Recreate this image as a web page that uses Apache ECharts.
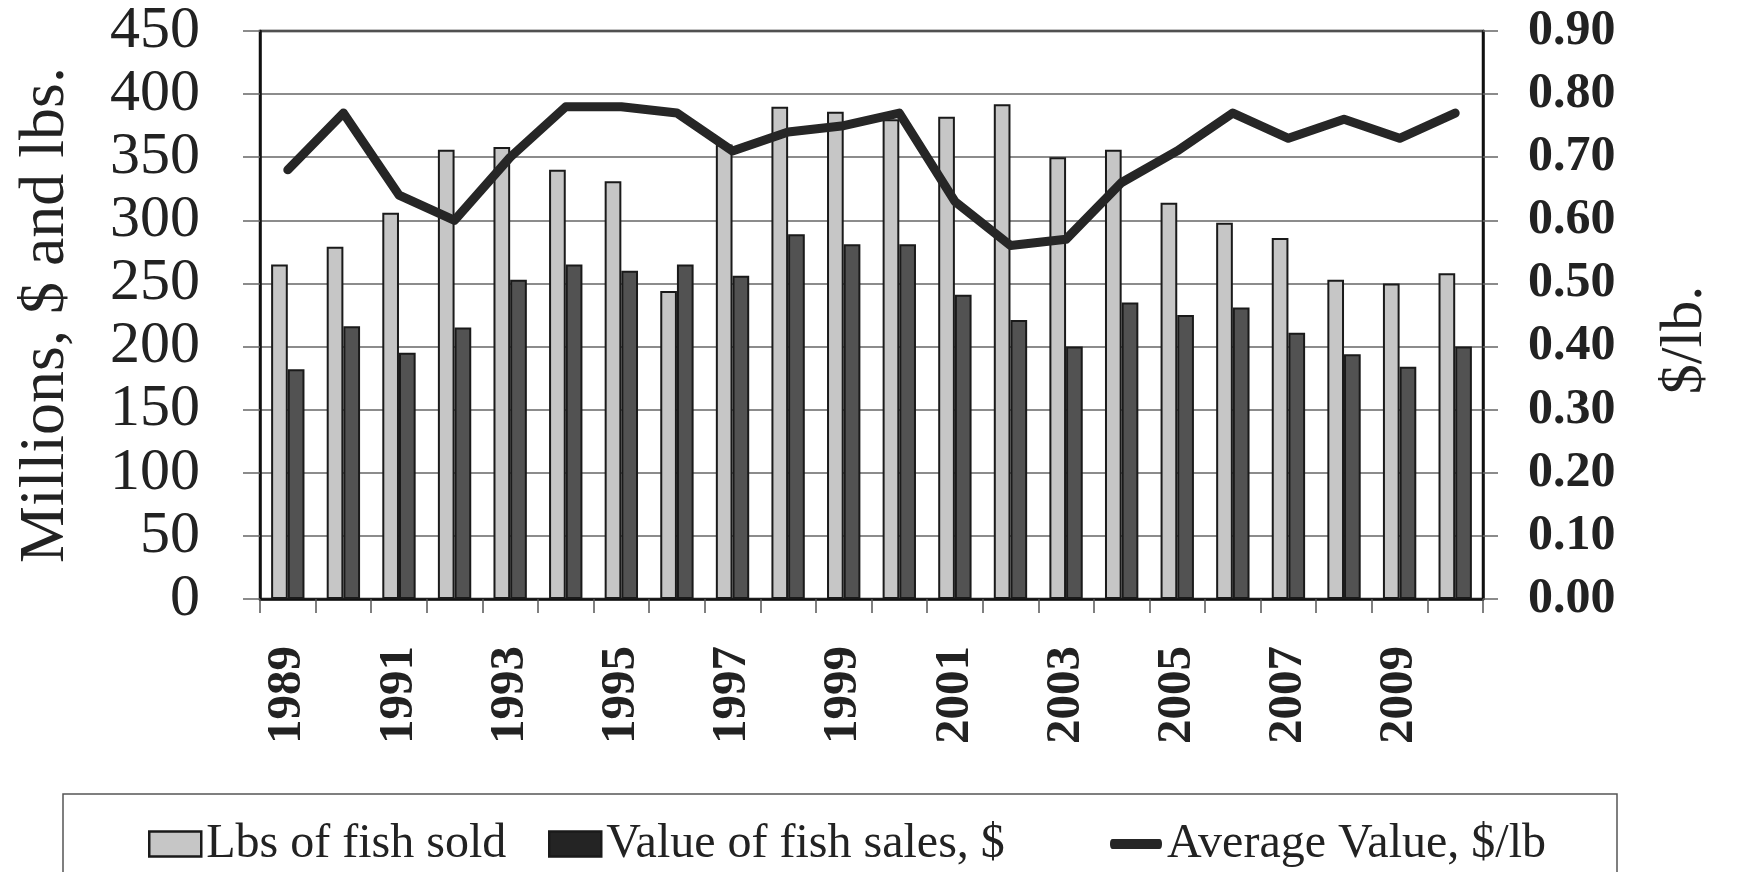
<!DOCTYPE html>
<html>
<head>
<meta charset="utf-8">
<title>Fish sales 1989-2010</title>
<script src="https://cdn.jsdelivr.net/npm/echarts@6/dist/echarts.min.js"></script>
<style>
  html, body { margin: 0; padding: 0; background: #ffffff; }
  #chart { width: 1744px; height: 872px; }
</style>
</head>
<body>
<div id="chart"></div>
<script>
// Years on the category axis
const years = ['1989', '1990', '1991', '1992', '1993', '1994', '1995', '1996', '1997', '1998', '1999',
               '2000', '2001', '2002', '2003', '2004', '2005', '2006', '2007', '2008', '2009', '2010'];

// Millions of lbs of fish sold
const lbsSold = [265, 279, 306, 356, 358, 340, 331, 244, 360, 390, 386,
                 380, 382, 392, 350, 356, 314, 298, 286, 253, 250, 258];

// Value of fish sales, millions of $
const salesValue = [182, 216, 195, 215, 253, 265, 260, 265, 256, 289, 281,
                    281, 241, 221, 200, 235, 225, 231, 211, 194, 184, 200];

// Average value, $/lb
const avgValue = [0.68, 0.77, 0.64, 0.60, 0.70, 0.78, 0.78, 0.77, 0.71, 0.74, 0.75,
                  0.77, 0.63, 0.56, 0.57, 0.66, 0.71, 0.77, 0.73, 0.76, 0.73, 0.77];

const SERIF = "'Liberation Serif', 'Times New Roman', serif";
const INK = '#222222';
const EDGE = '#1a1a1a';

const chart = echarts.init(document.getElementById('chart'), null, { renderer: 'canvas' });

// Shared legend look: one legend block per entry so each can sit in its own column
const legendBase = {
  top: 820,
  padding: 0,
  selectedMode: false,
  itemHeight: 25,
  itemWidth: 52,
  textStyle: { fontFamily: SERIF, fontSize: 48, color: INK }
};

// Capsule-shaped key for the line series
const lineKey = 'path://M5,0 L95,0 A5,5 0 0 1 95,10 L5,10 A5,5 0 0 1 5,0 Z';

chart.setOption({
  animation: false,
  backgroundColor: '#ffffff',
  grid: {
    left: 260, right: 261, top: 31, bottom: 273,
    show: true, borderColor: '#111111', borderWidth: 2.5
  },
  legend: [
    Object.assign({}, legendBase, {
      left: 148,
      data: [{
        name: 'Lbs of fish sold', icon: 'rect',
        itemStyle: { color: '#c6c6c6', borderColor: EDGE, borderWidth: 2.5 }
      }]
    }),
    Object.assign({}, legendBase, {
      left: 548,
      data: [{
        name: 'Value of fish sales, $', icon: 'rect',
        itemStyle: { color: '#242424', borderColor: EDGE, borderWidth: 2.5 }
      }]
    }),
    Object.assign({}, legendBase, {
      left: 1110, itemHeight: 10, symbolKeepAspect: false,
      data: [{ name: 'Average Value, $/lb', icon: lineKey, itemStyle: { color: '#262626' } }]
    })
  ],
  graphic: [{
    type: 'rect',
    silent: true,
    shape: { x: 63, y: 794, width: 1554, height: 120 },
    style: { fill: 'none', stroke: '#555555', lineWidth: 1.5 }
  }],
  xAxis: {
    type: 'category',
    data: years,
    axisLine: { lineStyle: { color: '#111111', width: 2.5 } },
    axisTick: { show: true, interval: 0, length: 14, lineStyle: { color: '#555555', width: 1.5 } },
    axisLabel: {
      interval: 1, rotate: 90, margin: 47,
      fontFamily: SERIF, fontWeight: 'bold', fontSize: 49, color: INK
    },
    splitLine: { show: false }
  },
  yAxis: [
    {
      type: 'value', position: 'left', min: 0, max: 450, interval: 50,
      name: 'Millions, $ and lbs.', nameLocation: 'middle', nameGap: 182, nameRotate: 90,
      nameTextStyle: { fontFamily: SERIF, fontSize: 64, color: INK },
      axisLine: { show: true, lineStyle: { color: '#111111', width: 2.5 } },
      axisTick: { show: true, length: 17, lineStyle: { color: '#666666', width: 1.5 } },
      axisLabel: { margin: 60, fontFamily: SERIF, fontSize: 60, color: INK },
      splitLine: { show: true, lineStyle: { color: '#666666', width: 1.5 } }
    },
    {
      type: 'value', position: 'right', min: 0, max: 0.9, interval: 0.1,
      name: '$/lb.', nameLocation: 'middle', nameGap: 172, nameRotate: 90,
      nameTextStyle: { fontFamily: SERIF, fontSize: 60, color: INK, padding: [0, 50, 0, 0] },
      axisLine: { show: true, lineStyle: { color: '#111111', width: 2.5 } },
      axisTick: { show: true, length: 15, lineStyle: { color: '#666666', width: 1.5 } },
      axisLabel: {
        margin: 45, fontFamily: SERIF, fontWeight: 'bold', fontSize: 50, color: INK,
        formatter: v => v.toFixed(2)
      },
      splitLine: { show: false }
    }
  ],
  series: [
    {
      name: 'Lbs of fish sold',
      type: 'bar',
      data: lbsSold,
      barGap: '0%',
      barCategoryGap: '40%',
      itemStyle: { color: '#c6c6c6', borderColor: EDGE, borderWidth: 2 }
    },
    {
      name: 'Value of fish sales, $',
      type: 'bar',
      data: salesValue,
      itemStyle: { color: '#525252', borderColor: EDGE, borderWidth: 2 }
    },
    {
      name: 'Average Value, $/lb',
      type: 'line',
      yAxisIndex: 1,
      data: avgValue,
      symbol: 'none',
      z: 10,
      itemStyle: { color: '#262626' },
      lineStyle: { color: '#262626', width: 9, cap: 'round', join: 'round' }
    }
  ]
});
</script>
</body>
</html>
